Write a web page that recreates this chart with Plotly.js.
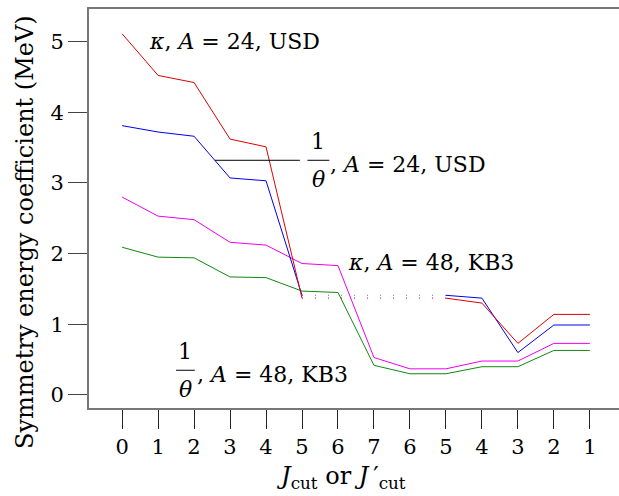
<!DOCTYPE html>
<html>
<head>
<meta charset="utf-8">
<script src="https://cdn.plot.ly/plotly-3.0.1.min.js"></script>
<style>html,body{margin:0;padding:0;background:#fff;}#chart{width:619px;height:496px;}</style>
</head>
<body>
<div id="chart"></div>
<script>
// x positions (index) and their tick labels
const xIndex = [0,1,2,3,4,5,6,7,8,9,10,11,12,13];
const tickLabels = ['0','1','2','3','4','5','6','7','6','5','4','3','2','1'];

// kappa, A=24, USD (red)
const kappa24Left = [5.11, 4.52, 4.42, 3.62, 3.51, 1.37];
const kappa24Right = [1.37, 1.30, 0.73, 1.14, 1.14];
// 1/theta, A=24, USD (blue)
const theta24Left = [3.81, 3.72, 3.66, 3.07, 3.03, 1.41];
const theta24Right = [1.41, 1.37, 0.60, 0.99, 0.99];
// kappa, A=48, KB3 (magenta)
const kappa48 = [2.80, 2.53, 2.48, 2.16, 2.12, 1.86, 1.83, 0.53, 0.37, 0.37, 0.48, 0.48, 0.73, 0.73];
// 1/theta, A=48, KB3 (green)
const theta48 = [2.09, 1.95, 1.94, 1.67, 1.66, 1.47, 1.45, 0.42, 0.30, 0.30, 0.40, 0.40, 0.63, 0.63];

const yTicks = [0,1,2,3,4,5];

const RED = '#dd0000', BLUE = '#0000ee', MAG = '#ee00ee', GRN = '#118811';
const leftX = xIndex.slice(0, 6);
const rightX = xIndex.slice(9);
const gapX = [xIndex[5], xIndex[9]];

const traces = [
  {x: xIndex, y: theta48, mode: 'lines', line: {color: GRN, width: 1}},
  {x: xIndex, y: kappa48, mode: 'lines', line: {color: MAG, width: 1}},
  {x: leftX, y: theta24Left, mode: 'lines', line: {color: BLUE, width: 1}},
  {x: rightX, y: theta24Right, mode: 'lines', line: {color: BLUE, width: 1}},
  {x: gapX, y: [theta24Left[5], theta24Right[0]], mode: 'lines', line: {color: BLUE, width: 1, dash: '1px,12px'}, opacity: 0.6},
  {x: leftX, y: kappa24Left, mode: 'lines', line: {color: RED, width: 1}},
  {x: rightX, y: kappa24Right, mode: 'lines', line: {color: RED, width: 1}},
  {x: gapX, y: [kappa24Left[5], kappa24Right[0]], mode: 'lines', line: {color: RED, width: 1, dash: '1px,12px'}}
];

const FONT = 'DejaVu Serif';
const fs = 21;
const tfs = 22;
const axfs = 24;
const anns = [
  {x: 0.7, y: 5.0, xanchor: 'left', yanchor: 'middle', text: '<i>κ</i>, <i>A</i> = 24, USD', showarrow: false, font: {family: FONT, size: tfs}},
  // fraction 1/theta A=24
  {x: 5.45, y: 3.58, xanchor: 'center', yanchor: 'middle', text: '1', showarrow: false, font: {family: FONT, size: tfs}},
  {x: 5.45, y: 3.05, xanchor: 'center', yanchor: 'middle', text: '<i>θ</i>', showarrow: false, font: {family: FONT, size: tfs}},
  {x: 5.72, y: 3.26, xanchor: 'left', yanchor: 'middle', text: ', <i>A</i> = 24, USD', showarrow: false, font: {family: FONT, size: tfs}},
  {x: 6.22, y: 1.88, xanchor: 'left', yanchor: 'middle', text: '<i>κ</i>, <i>A</i> = 48, KB3', showarrow: false, font: {family: FONT, size: tfs}},
  // fraction 1/theta A=48
  {x: 1.75, y: 0.61, xanchor: 'center', yanchor: 'middle', text: '1', showarrow: false, font: {family: FONT, size: tfs}},
  {x: 1.75, y: 0.08, xanchor: 'center', yanchor: 'middle', text: '<i>θ</i>', showarrow: false, font: {family: FONT, size: tfs}},
  {x: 2.02, y: 0.29, xanchor: 'left', yanchor: 'middle', text: ', <i>A</i> = 48, KB3', showarrow: false, font: {family: FONT, size: tfs}},
  // axis titles
  {xref: 'paper', yref: 'paper', x: 0.4755, y: -0.175, xanchor: 'center', yanchor: 'middle',
   text: '<i>J</i><sub>cut</sub> or <i>J</i>\u2009′<sub>cut</sub>', showarrow: false, font: {family: FONT, size: axfs}},
  {xref: 'paper', yref: 'paper', x: -0.121, y: 0.441, xanchor: 'center', yanchor: 'middle', textangle: -90,
   text: 'Symmetry energy coefficient (MeV)', showarrow: false, font: {family: FONT, size: axfs}}
];

const shapes = [
  {type: 'line', x0: 2.58, x1: 4.94, y0: 3.32, y1: 3.32, line: {color: '#000', width: 1}},
  {type: 'line', x0: 5.15, x1: 5.76, y0: 3.32, y1: 3.32, line: {color: '#000', width: 1}},
  {type: 'line', x0: 1.5, x1: 2.02, y0: 0.35, y1: 0.35, line: {color: '#000', width: 1}}
];

const layout = {
  width: 619, height: 496,
  margin: {l: 89, r: 0, t: 9, b: 88},
  paper_bgcolor: '#fff', plot_bgcolor: '#fff',
  showlegend: false,
  font: {family: FONT, size: fs, color: '#000'},
  xaxis: {
    range: [-0.92, 13.81], tickvals: xIndex, ticktext: tickLabels,
    ticks: 'outside', ticklen: 19, tickcolor: '#222', tickwidth: 1,
    showline: true, linecolor: '#777', linewidth: 2, mirror: true,
    showgrid: false, zeroline: false,
    tickfont: {family: FONT, size: fs}
  },
  yaxis: {
    range: [-0.184, 5.46], tickvals: yTicks,
    ticks: 'outside', ticklen: 19, tickcolor: '#444', tickwidth: 1,
    showline: true, linecolor: '#777', linewidth: 2, mirror: false,
    showgrid: false, zeroline: false,
    tickfont: {family: FONT, size: fs}
  },
  annotations: anns,
  shapes: shapes
};

Plotly.newPlot('chart', traces, layout, {displayModeBar: false, staticPlot: true});
</script>
</body>
</html>
